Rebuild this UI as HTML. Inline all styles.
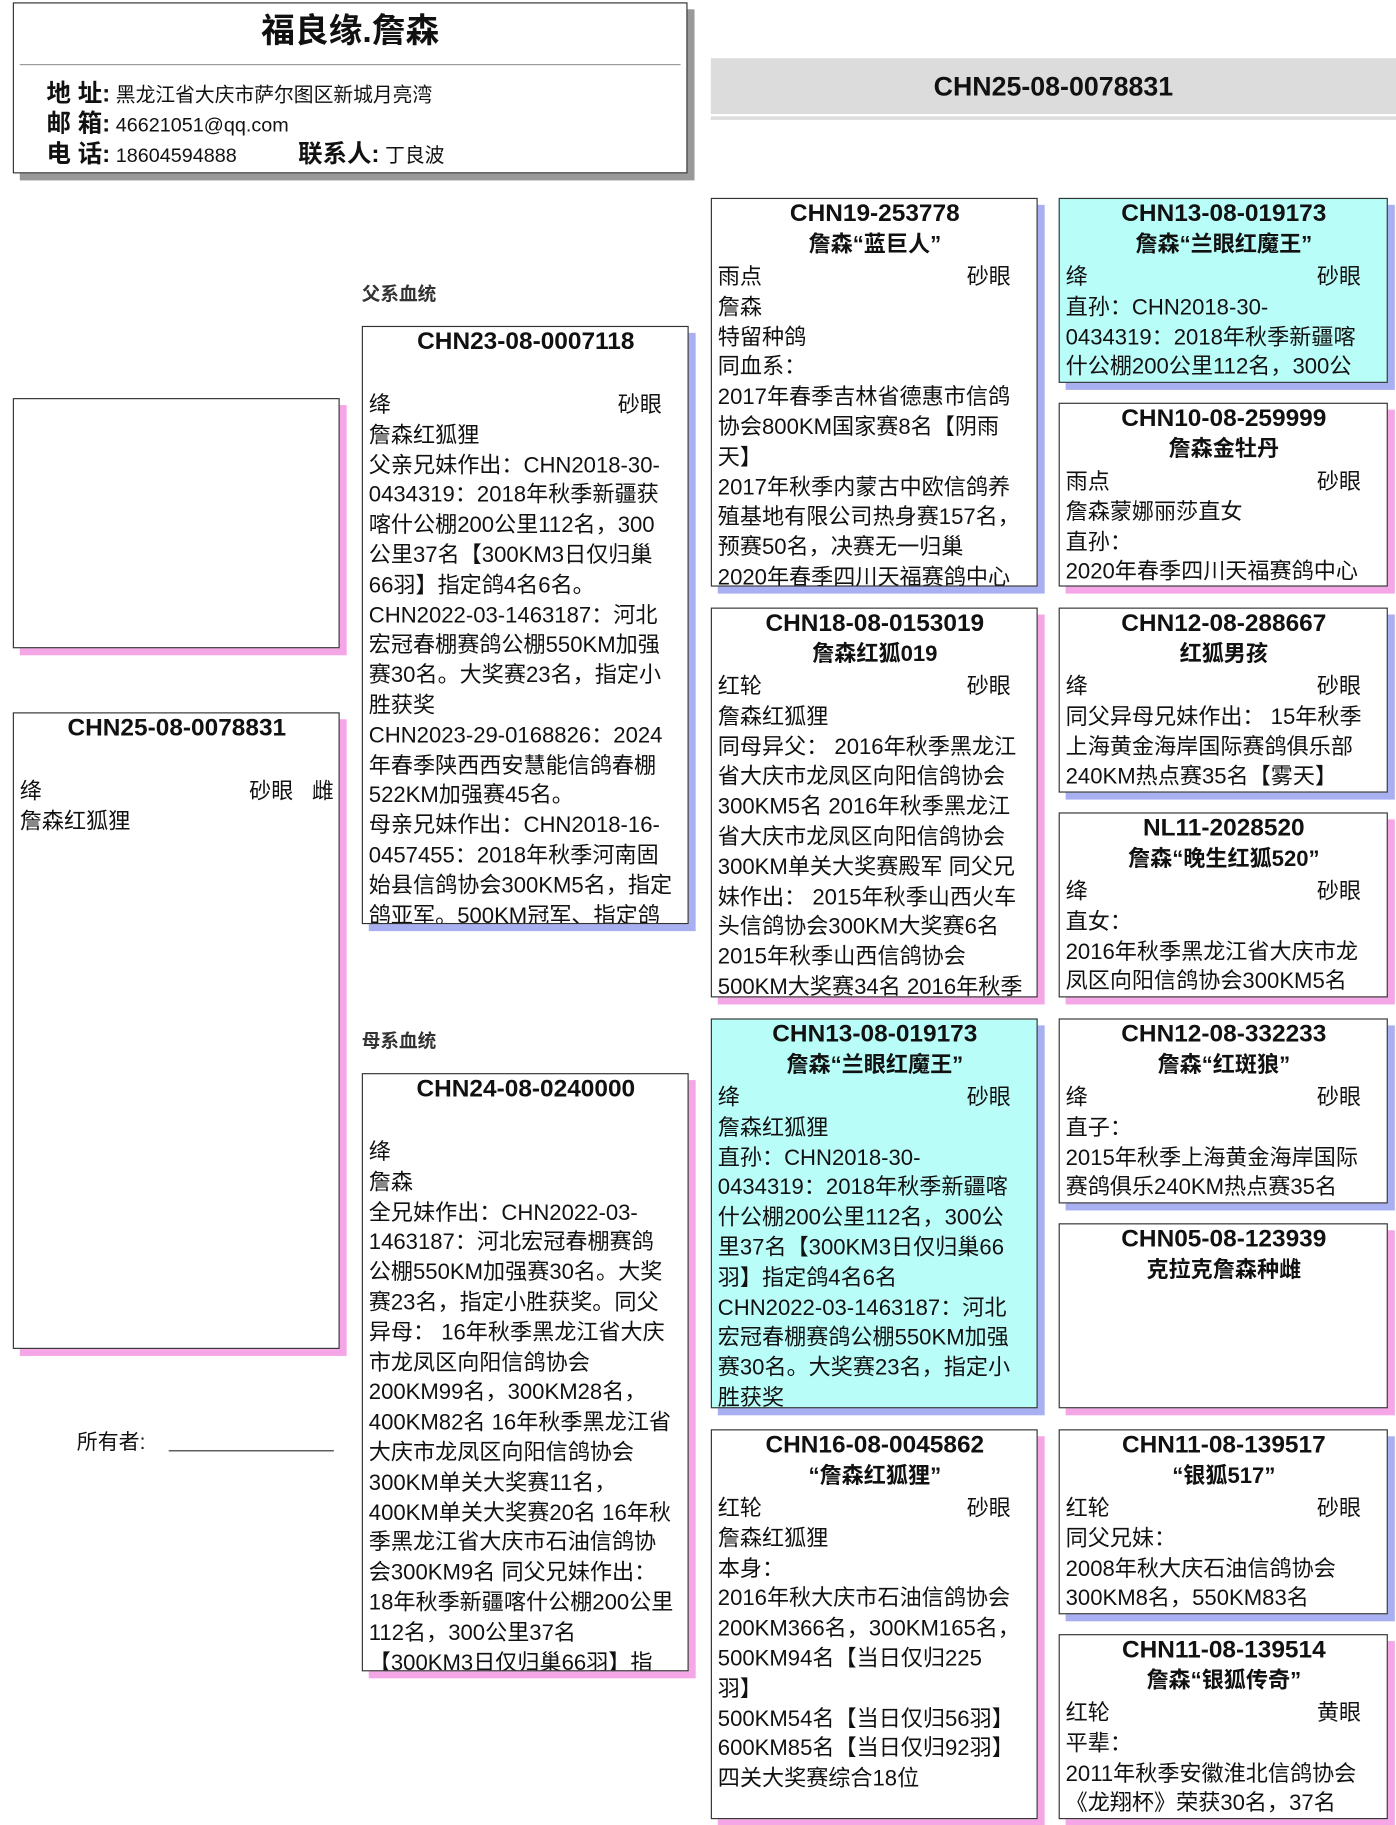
<!DOCTYPE html>
<html><head><meta charset="utf-8">
<style>
html,body{margin:0;padding:0;background:#fff;}
body{width:1396px;height:1825px;overflow:hidden;position:relative;}
#w{position:absolute;left:0;top:0;width:1200px;height:1568px;transform:scale(1.16333,1.1639);transform-origin:0 0;font-family:"Liberation Sans","Noto Sans CJK SC",sans-serif;color:#111;}
.b{position:absolute;box-sizing:border-box;border:1px solid #333;background:#fff;overflow:hidden;padding:0 4px 0 5px;font-size:19px;line-height:25.8px;white-space:nowrap;}
.sb{box-shadow:6px 6px 0 #a9b0f2;}
.sp{box-shadow:6px 6px 0 #f5a6e6;}
.cy{background:#b8fdf8;}
.id{font-weight:bold;font-size:21px;text-align:center;line-height:26px;height:26px;}
.nm{font-weight:bold;font-size:19px;text-align:center;line-height:28px;height:29px;}
.r{display:flex;justify-content:space-between;padding-right:18px;}
.lab{position:absolute;font-weight:bold;font-size:16px;color:#333;}
.hr{height:26px;line-height:26px;}
</style></head><body><div id="w">

<div style="position:absolute;left:11px;top:2px;width:580px;height:147px;box-sizing:border-box;border:1px solid #333;background:#fff;box-shadow:6px 6px 0 #999;">
 <div style="text-align:center;font-weight:bold;font-size:29px;line-height:46px;margin-top:1px;">福良缘.詹森</div>
 <div style="position:absolute;left:5px;right:5px;top:52px;border-top:1px solid #999;"></div>
 <div style="position:absolute;left:28px;top:65px;font-size:17px;white-space:nowrap;">
  <div class="hr"><b style="font-size:21px">地 址:</b> 黑龙江省大庆市萨尔图区新城月亮湾</div>
  <div class="hr"><b style="font-size:21px">邮 箱:</b> 46621051@qq.com</div>
  <div class="hr"><b style="font-size:21px">电 话:</b> 18604594888 <b style="font-size:21px;margin-left:48px">联系人:</b> 丁良波</div>
 </div>
</div>

<div style="position:absolute;left:611px;top:50px;width:589px;height:48px;background:#dcdcdc;text-align:center;font-weight:bold;font-size:23px;line-height:48px;">CHN25-08-0078831</div>
<div style="position:absolute;left:611px;top:100px;width:589px;height:3px;background:#dcdcdc;"></div>

<div class="lab" style="left:311px;top:239px;">父系血统</div>
<div class="lab" style="left:311px;top:881px;">母系血统</div>

<div class="b sp" style="left:11px;top:342px;width:281px;height:215px;"></div>
<div class="b sp" style="left:11px;top:612px;width:281px;height:547px;">
 <div class="id">CHN25-08-0078831</div><div class="nm"></div>
 <div class="r" style="padding-right:0"><span>绛</span><span>砂眼 &nbsp; 雌</span></div>
 <div>詹森红狐狸</div>
</div>
<div style="position:absolute;left:66px;top:1225px;font-size:18px;">所有者:</div>
<div style="position:absolute;left:145px;top:1246px;width:142px;border-top:1px solid #333;"></div>

<div class="b sb" style="left:311px;top:280px;width:281px;height:514px;">
 <div class="id">CHN23-08-0007118</div><div class="nm"></div>
 <div class="r"><span>绛</span><span>砂眼</span></div>
 <div>詹森红狐狸</div>
 <div>父亲兄妹作出：CHN2018-30-</div><div>0434319：2018年秋季新疆获</div><div>喀什公棚200公里112名，300</div><div>公里37名【300KM3日仅归巢</div><div>66羽】指定鸽4名6名。</div><div>CHN2022-03-1463187：河北</div><div>宏冠春棚赛鸽公棚550KM加强</div><div>赛30名。大奖赛23名，指定小</div><div>胜获奖</div><div>CHN2023-29-0168826：2024</div><div>年春季陕西西安慧能信鸽春棚</div><div>522KM加强赛45名。</div><div>母亲兄妹作出：CHN2018-16-</div><div>0457455：2018年秋季河南固</div><div>始县信鸽协会300KM5名，指定</div><div>鸽亚军。500KM冠军、指定鸽</div>
</div>

<div class="b sp" style="left:311px;top:922px;width:281px;height:514px;">
 <div class="id">CHN24-08-0240000</div><div class="nm"></div>
 <div>绛</div>
 <div>詹森</div>
 <div>全兄妹作出：CHN2022-03-</div><div>1463187：河北宏冠春棚赛鸽</div><div>公棚550KM加强赛30名。大奖</div><div>赛23名，指定小胜获奖。同父</div><div>异母： 16年秋季黑龙江省大庆</div><div>市龙凤区向阳信鸽协会</div><div>200KM99名，300KM28名，</div><div>400KM82名 16年秋季黑龙江省</div><div>大庆市龙凤区向阳信鸽协会</div><div>300KM单关大奖赛11名，</div><div>400KM单关大奖赛20名 16年秋</div><div>季黑龙江省大庆市石油信鸽协</div><div>会300KM9名 同父兄妹作出：</div><div>18年秋季新疆喀什公棚200公里</div><div>112名，300公里37名</div><div>【300KM3日仅归巢66羽】指</div>
</div>

<div class="b sb" style="left:611px;top:170px;width:281px;height:334px;">
 <div class="id">CHN19-253778</div><div class="nm">詹森“蓝巨人”</div>
 <div class="r"><span>雨点</span><span>砂眼</span></div>
 <div>詹森</div><div>特留种鸽</div><div>同血系：</div>
 <div>2017年春季吉林省德惠市信鸽</div><div>协会800KM国家赛8名【阴雨</div><div>天】</div><div>2017年秋季内蒙古中欧信鸽养</div><div>殖基地有限公司热身赛157名，</div><div>预赛50名，决赛无一归巢</div><div>2020年春季四川天福赛鸽中心</div>
</div>
<div class="b sp" style="left:611px;top:522px;width:281px;height:335px;">
 <div class="id">CHN18-08-0153019</div><div class="nm">詹森红狐019</div>
 <div class="r"><span>红轮</span><span>砂眼</span></div>
 <div>詹森红狐狸</div>
 <div>同母异父： 2016年秋季黑龙江</div><div>省大庆市龙凤区向阳信鸽协会</div><div>300KM5名 2016年秋季黑龙江</div><div>省大庆市龙凤区向阳信鸽协会</div><div>300KM单关大奖赛殿军 同父兄</div><div>妹作出： 2015年秋季山西火车</div><div>头信鸽协会300KM大奖赛6名</div><div>2015年秋季山西信鸽协会</div><div>500KM大奖赛34名 2016年秋季</div>
</div>
<div class="b sb cy" style="left:611px;top:875px;width:281px;height:335px;">
 <div class="id">CHN13-08-019173</div><div class="nm">詹森“兰眼红魔王”</div>
 <div class="r"><span>绛</span><span>砂眼</span></div>
 <div>詹森红狐狸</div>
 <div>直孙：CHN2018-30-</div><div>0434319：2018年秋季新疆喀</div><div>什公棚200公里112名，300公</div><div>里37名【300KM3日仅归巢66</div><div>羽】指定鸽4名6名</div><div>CHN2022-03-1463187：河北</div><div>宏冠春棚赛鸽公棚550KM加强</div><div>赛30名。大奖赛23名，指定小</div><div>胜获奖</div>
</div>
<div class="b sp" style="left:611px;top:1228px;width:281px;height:335px;">
 <div class="id">CHN16-08-0045862</div><div class="nm">“詹森红狐狸”</div>
 <div class="r"><span>红轮</span><span>砂眼</span></div>
 <div>詹森红狐狸</div><div>本身：</div>
 <div>2016年秋大庆市石油信鸽协会</div><div>200KM366名，300KM165名，</div><div>500KM94名【当日仅归225</div><div>羽】</div><div>500KM54名【当日仅归56羽】</div><div>600KM85名【当日仅归92羽】</div><div>四关大奖赛综合18位</div>
</div>

<div class="b sb cy" style="left:910px;top:170px;width:283px;height:159px;">
 <div class="id">CHN13-08-019173</div><div class="nm">詹森“兰眼红魔王”</div>
 <div class="r"><span>绛</span><span>砂眼</span></div>
 <div>直孙：CHN2018-30-</div><div>0434319：2018年秋季新疆喀</div><div>什公棚200公里112名，300公</div>
</div>
<div class="b sp" style="left:910px;top:346px;width:283px;height:158px;">
 <div class="id">CHN10-08-259999</div><div class="nm">詹森金牡丹</div>
 <div class="r"><span>雨点</span><span>砂眼</span></div>
 <div>詹森蒙娜丽莎直女</div><div>直孙：</div><div>2020年春季四川天福赛鸽中心</div>
</div>
<div class="b sb" style="left:910px;top:522px;width:283px;height:159px;">
 <div class="id">CHN12-08-288667</div><div class="nm">红狐男孩</div>
 <div class="r"><span>绛</span><span>砂眼</span></div>
 <div>同父异母兄妹作出： 15年秋季</div><div>上海黄金海岸国际赛鸽俱乐部</div><div>240KM热点赛35名【雾天】</div>
</div>
<div class="b sp" style="left:910px;top:698px;width:283px;height:159px;">
 <div class="id">NL11-2028520</div><div class="nm">詹森“晚生红狐520”</div>
 <div class="r"><span>绛</span><span>砂眼</span></div>
 <div>直女：</div><div>2016年秋季黑龙江省大庆市龙</div><div>凤区向阳信鸽协会300KM5名</div>
</div>
<div class="b sb" style="left:910px;top:875px;width:283px;height:159px;">
 <div class="id">CHN12-08-332233</div><div class="nm">詹森“红斑狼”</div>
 <div class="r"><span>绛</span><span>砂眼</span></div>
 <div>直子：</div><div>2015年秋季上海黄金海岸国际</div><div>赛鸽俱乐240KM热点赛35名</div>
</div>
<div class="b sp" style="left:910px;top:1051px;width:283px;height:159px;">
 <div class="id">CHN05-08-123939</div><div class="nm">克拉克詹森种雌</div>
</div>
<div class="b sb" style="left:910px;top:1228px;width:283px;height:159px;">
 <div class="id">CHN11-08-139517</div><div class="nm">“银狐517”</div>
 <div class="r"><span>红轮</span><span>砂眼</span></div>
 <div>同父兄妹：</div><div>2008年秋大庆石油信鸽协会</div><div>300KM8名，550KM83名</div>
</div>
<div class="b sp" style="left:910px;top:1404px;width:283px;height:159px;">
 <div class="id">CHN11-08-139514</div><div class="nm">詹森“银狐传奇”</div>
 <div class="r"><span>红轮</span><span>黄眼</span></div>
 <div>平辈：</div><div>2011年秋季安徽淮北信鸽协会</div><div>《龙翔杯》荣获30名，37名</div>
</div>

</div></body></html>
